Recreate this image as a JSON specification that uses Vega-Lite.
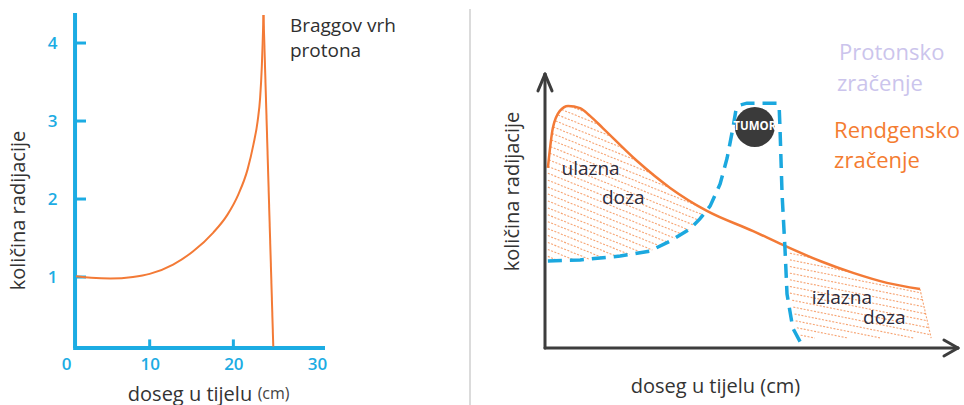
{
  "$schema": "https://vega.github.io/schema/vega-lite/v6.json",
  "padding": {"left": 8, "top": 8, "right": 0, "bottom": 0},
  "background": "white",
  "config": {"view": {"stroke": null}, "font": "Open Sans", "axis": {"grid": false}},
  "spacing": 220,
  "bounds": "flush",
  "datasets": {
    "leftAxes": [
      {"x": 1.08, "y": 0.09, "x2": 1.08, "y2": 4.385},
      {"x": 0.85, "y": 0.09, "x2": 30.95, "y2": 0.09}
    ],
    "leftTicks": [
      {"x": 1.08, "y": 1, "x2": 2.39, "y2": 1},
      {"x": 1.08, "y": 2, "x2": 2.39, "y2": 2},
      {"x": 1.08, "y": 3, "x2": 2.39, "y2": 3},
      {"x": 1.08, "y": 4, "x2": 2.39, "y2": 4},
      {"x": 10, "y": 0.09, "x2": 10, "y2": 0.2},
      {"x": 20, "y": 0.09, "x2": 20, "y2": 0.2}
    ],
    "bragg": [
      {"s": "rise", "i": 1, "x": 1.2, "y": 1.01}, {"s": "rise", "i": 2, "x": 3, "y": 0.99},
      {"s": "rise", "i": 3, "x": 5.3, "y": 0.98}, {"s": "rise", "i": 4, "x": 8, "y": 1.0},
      {"s": "rise", "i": 5, "x": 10, "y": 1.04}, {"s": "rise", "i": 6, "x": 12.8, "y": 1.16},
      {"s": "rise", "i": 7, "x": 15.2, "y": 1.33}, {"s": "rise", "i": 8, "x": 17.6, "y": 1.57},
      {"s": "rise", "i": 9, "x": 19.3, "y": 1.8}, {"s": "rise", "i": 10, "x": 20.6, "y": 2.06},
      {"s": "rise", "i": 11, "x": 21.7, "y": 2.38}, {"s": "rise", "i": 12, "x": 22.4, "y": 2.7},
      {"s": "rise", "i": 13, "x": 22.9, "y": 3.0}, {"s": "rise", "i": 14, "x": 23.2, "y": 3.3},
      {"s": "rise", "i": 15, "x": 23.4, "y": 3.7}, {"s": "rise", "i": 16, "x": 23.5, "y": 4.0},
      {"s": "rise", "i": 17, "x": 23.6, "y": 4.36},
      {"s": "fall", "i": 1, "x": 23.6, "y": 4.36}, {"s": "fall", "i": 2, "x": 24.77, "y": 0.11}
    ],
    "braggLabel": [
      {"x": 26.76, "y": 4.22, "text": "Braggov vrh"},
      {"x": 26.76, "y": 3.9, "text": "protona"}
    ],
    "cmLabel": [{"x": 22.9, "y": -0.5, "text": "(cm)"}],
    "separator": [{"x": -18.16, "y": 122.4, "x2": -18.16, "y2": -21}],
    "rightAxes": [
      {"x": 0, "y": 0, "x2": 0, "y2": 98.9},
      {"x": 0, "y": 0, "x2": 100, "y2": 0},
      {"x": -1.7, "y": 92.8, "x2": 0, "y2": 98.9},
      {"x": 1.7, "y": 92.8, "x2": 0, "y2": 98.9},
      {"x": 96.6, "y": 2.9, "x2": 100, "y2": 0},
      {"x": 96.6, "y": -2.9, "x2": 100, "y2": 0}
    ],
    "xray": [
      {"x": 0.7, "y": 65}, {"x": 1.9, "y": 79.4}, {"x": 3.6, "y": 85.6}, {"x": 5.6, "y": 87.4},
      {"x": 8.5, "y": 86.6}, {"x": 10.9, "y": 83.8}, {"x": 14, "y": 79.4}, {"x": 22.3, "y": 67.5},
      {"x": 30.3, "y": 57.8}, {"x": 39.2, "y": 49.5}, {"x": 50.4, "y": 42.2}, {"x": 57.6, "y": 37.2},
      {"x": 66.6, "y": 31.4}, {"x": 74.6, "y": 27.1}, {"x": 82.8, "y": 23.5}, {"x": 90.8, "y": 21.3}
    ],
    "proton": [
      {"i": 1, "x": 0.7, "y": 31.4}, {"i": 2, "x": 8.5, "y": 31.8}, {"i": 3, "x": 18.2, "y": 33.2},
      {"i": 4, "x": 25.4, "y": 35.0}, {"i": 5, "x": 30.3, "y": 38.6}, {"i": 6, "x": 35.1, "y": 43.0},
      {"i": 7, "x": 37.5, "y": 46.6}, {"i": 8, "x": 40.0, "y": 51.3}, {"i": 9, "x": 42.4, "y": 59.2},
      {"i": 10, "x": 44.1, "y": 68.6}, {"i": 11, "x": 45.5, "y": 79.4}, {"i": 12, "x": 46.2, "y": 85.6},
      {"i": 13, "x": 47.2, "y": 87.7}, {"i": 14, "x": 48.9, "y": 88.4}, {"i": 15, "x": 56.2, "y": 88.4},
      {"i": 16, "x": 56.7, "y": 87.0}, {"i": 17, "x": 56.9, "y": 79.4}, {"i": 18, "x": 57.4, "y": 55.6},
      {"i": 19, "x": 58.1, "y": 36.1}, {"i": 20, "x": 58.6, "y": 19.5}, {"i": 21, "x": 60.0, "y": 7.2},
      {"i": 22, "x": 62.2, "y": 1.1}
    ],
    "hatch": [
      {"x": 0.7, "y": 33.08, "x2": 3.3, "y2": 31.52},
      {"x": 0.7, "y": 35.58, "x2": 7.12, "y2": 31.73},
      {"x": 0.7, "y": 38.08, "x2": 10.66, "y2": 32.1},
      {"x": 0.7, "y": 40.58, "x2": 14.03, "y2": 32.58},
      {"x": 0.7, "y": 43.08, "x2": 17.39, "y2": 33.07},
      {"x": 0.7, "y": 45.58, "x2": 20.44, "y2": 33.74},
      {"x": 0.7, "y": 48.08, "x2": 23.39, "y2": 34.47},
      {"x": 0.7, "y": 50.58, "x2": 25.99, "y2": 35.4},
      {"x": 0.7, "y": 53.08, "x2": 27.85, "y2": 36.79},
      {"x": 0.7, "y": 55.58, "x2": 29.71, "y2": 38.17},
      {"x": 0.7, "y": 58.08, "x2": 31.42, "y2": 39.65},
      {"x": 0.7, "y": 60.58, "x2": 33.06, "y2": 41.16},
      {"x": 0.7, "y": 63.08, "x2": 34.7, "y2": 42.68},
      {"x": 0.75, "y": 65.55, "x2": 36.01, "y2": 44.39},
      {"x": 0.95, "y": 67.93, "x2": 37.21, "y2": 46.17},
      {"x": 1.15, "y": 70.31, "x2": 38.27, "y2": 48.04},
      {"x": 1.34, "y": 72.69, "x2": 37.72, "y2": 50.87},
      {"x": 1.54, "y": 75.08, "x2": 30.3, "y2": 57.8},
      {"x": 1.74, "y": 77.46, "x2": 26.22, "y2": 62.77},
      {"x": 2.02, "y": 79.79, "x2": 22.18, "y2": 67.69},
      {"x": 2.6, "y": 81.94, "x2": 19.17, "y2": 72.0},
      {"x": 3.18, "y": 84.09, "x2": 16.17, "y2": 76.3},
      {"x": 4.07, "y": 86.06, "x2": 13.13, "y2": 80.62},
      {"x": 6.25, "y": 87.25, "x2": 9.7, "y2": 85.18},
      {"x": 59.3, "y": 34.21, "x2": 64.8, "y2": 32.56},
      {"x": 59.3, "y": 31.81, "x2": 74.1, "y2": 27.37},
      {"x": 59.3, "y": 29.41, "x2": 91.0, "y2": 19.9},
      {"x": 59.3, "y": 27.01, "x2": 91.4, "y2": 17.38},
      {"x": 59.3, "y": 24.61, "x2": 91.78, "y2": 14.87},
      {"x": 59.3, "y": 22.21, "x2": 92.16, "y2": 12.35},
      {"x": 59.3, "y": 19.81, "x2": 92.55, "y2": 9.84},
      {"x": 59.85, "y": 17.24, "x2": 92.93, "y2": 7.32},
      {"x": 60.13, "y": 14.76, "x2": 93.31, "y2": 4.81},
      {"x": 60.42, "y": 12.27, "x2": 89.33, "y2": 3.6},
      {"x": 60.7, "y": 9.79, "x2": 81.33, "y2": 3.6},
      {"x": 60.99, "y": 7.3, "x2": 73.33, "y2": 3.6},
      {"x": 61.9, "y": 4.63, "x2": 65.33, "y2": 3.6},
      {"x": 90.8, "y": 21.3, "x2": 93.5, "y2": 3.6}
    ],
    "tumor": [{"x": 50.8, "y": 79.8, "text": "TUMOR"}],
    "doseLabels": [
      {"x": 4.0, "y": 64.6, "text": "ulazna"},
      {"x": 13.8, "y": 54.2, "text": "doza"},
      {"x": 64.6, "y": 18.1, "text": "izlazna"},
      {"x": 77.0, "y": 10.8, "text": "doza"}
    ],
    "protonLegend": [
      {"x": 71.2, "y": 106.5, "text": "Protonsko"},
      {"x": 70.7, "y": 95.3, "text": "zračenje"}
    ],
    "xrayLegend": [
      {"x": 70.0, "y": 78.3, "text": "Rendgensko"},
      {"x": 70.0, "y": 67.6, "text": "zračenje"}
    ]
  },
  "hconcat": [
    {
      "width": 259,
      "height": 335,
      "layer": [
        {
          "data": {"name": "leftAxes"},
          "mark": {"type": "rule", "color": "#1cace3", "strokeWidth": 4},
          "encoding": {
            "x": {"field": "x", "type": "quantitative",
              "scale": {"domain": [0, 30.95], "nice": false, "zero": false},
              "axis": {"values": [0, 10, 20, 30], "format": "d", "ticks": false, "domain": false, "labelFlush": false,
                "labelColor": "#1cace3", "labelFontSize": 17, "labelFontWeight": 600, "labelPadding": 8,
                "title": "doseg u tijelu", "titleFontSize": 20, "titleFontWeight": "normal", "titleColor": "#333333",
                "titleX": 123.5, "titleY": 46, "titleBaseline": "middle", "titleAlign": "center"}},
            "y": {"field": "y", "type": "quantitative",
              "scale": {"domain": [0.09, 4.385], "nice": false, "zero": false},
              "axis": {"values": [1, 2, 3, 4], "format": "d", "ticks": false, "domain": false,
                "labelColor": "#1cace3", "labelFontSize": 17, "labelFontWeight": 600, "labelPadding": 9,
                "title": "količina radijacije", "titleFontSize": 20, "titleFontWeight": "normal", "titleColor": "#333333",
                "titleX": -48, "titleY": 197, "titleAngle": 270, "titleBaseline": "middle", "titleAlign": "center"}},
            "x2": {"field": "x2"},
            "y2": {"field": "y2"}
          }
        },
        {
          "data": {"name": "leftTicks"},
          "mark": {"type": "rule", "color": "#1cace3", "strokeWidth": 3},
          "encoding": {
            "x": {"field": "x", "type": "quantitative"},
            "y": {"field": "y", "type": "quantitative"},
            "x2": {"field": "x2"},
            "y2": {"field": "y2"}
          }
        },
        {
          "data": {"name": "bragg"},
          "mark": {"type": "line", "color": "#f37a36", "strokeWidth": 2, "interpolate": "monotone"},
          "encoding": {
            "x": {"field": "x", "type": "quantitative"},
            "y": {"field": "y", "type": "quantitative"},
            "detail": {"field": "s"},
            "order": {"field": "i", "type": "quantitative"}
          }
        },
        {
          "data": {"name": "braggLabel"},
          "mark": {"type": "text", "align": "left", "baseline": "middle", "fontSize": 19, "color": "#2f2f2f"},
          "encoding": {
            "x": {"field": "x", "type": "quantitative"},
            "y": {"field": "y", "type": "quantitative"},
            "text": {"field": "text"}
          }
        },
        {
          "data": {"name": "cmLabel"},
          "mark": {"type": "text", "align": "left", "baseline": "middle", "fontSize": 16, "color": "#444444"},
          "encoding": {
            "x": {"field": "x", "type": "quantitative"},
            "y": {"field": "y", "type": "quantitative"},
            "text": {"field": "text"}
          }
        }
      ]
    },
    {
      "width": 413,
      "height": 335,
      "layer": [
        {
          "data": {"name": "separator"},
          "mark": {"type": "rule", "color": "#cfcfcf", "strokeWidth": 1.5},
          "encoding": {
            "x": {"field": "x", "type": "quantitative",
              "scale": {"domain": [0, 100], "nice": false, "zero": false},
              "axis": {"labels": false, "ticks": false, "domain": false,
                "title": "doseg u tijelu (cm)", "titleFontSize": 20, "titleFontWeight": "normal", "titleColor": "#333333",
                "titleX": 170, "titleY": 38, "titleBaseline": "middle", "titleAlign": "center"}},
            "y": {"field": "y", "type": "quantitative",
              "scale": {"domain": [0, 120.94], "nice": false, "zero": false},
              "axis": {"labels": false, "ticks": false, "domain": false,
                "title": "količina radijacije", "titleFontSize": 20, "titleFontWeight": "normal", "titleColor": "#333333",
                "titleX": -33, "titleY": 178, "titleAngle": 270, "titleBaseline": "middle", "titleAlign": "center"}},
            "x2": {"field": "x2"},
            "y2": {"field": "y2"}
          }
        },
        {
          "data": {"name": "hatch"},
          "mark": {"type": "rule", "color": "#f5945a", "strokeWidth": 1.1, "strokeDash": [2, 1.5], "opacity": 0.85},
          "encoding": {
            "x": {"field": "x", "type": "quantitative"},
            "y": {"field": "y", "type": "quantitative"},
            "x2": {"field": "x2"},
            "y2": {"field": "y2"}
          }
        },
        {
          "data": {"name": "xray"},
          "mark": {"type": "line", "color": "#f37a36", "strokeWidth": 2.5, "interpolate": "monotone"},
          "encoding": {
            "x": {"field": "x", "type": "quantitative"},
            "y": {"field": "y", "type": "quantitative"}
          }
        },
        {
          "data": {"name": "proton"},
          "mark": {"type": "line", "color": "#1ba8df", "strokeWidth": 3.5, "strokeDash": [14, 8]},
          "encoding": {
            "x": {"field": "x", "type": "quantitative"},
            "y": {"field": "y", "type": "quantitative"},
            "order": {"field": "i", "type": "quantitative"}
          }
        },
        {
          "data": {"name": "rightAxes"},
          "mark": {"type": "rule", "color": "#3d3d3d", "strokeWidth": 3, "strokeCap": "round"},
          "encoding": {
            "x": {"field": "x", "type": "quantitative"},
            "y": {"field": "y", "type": "quantitative"},
            "x2": {"field": "x2"},
            "y2": {"field": "y2"}
          }
        },
        {
          "data": {"name": "tumor"},
          "mark": {"type": "point", "filled": true, "shape": "circle", "size": 1590, "color": "#3a3a3a", "opacity": 1},
          "encoding": {
            "x": {"field": "x", "type": "quantitative"},
            "y": {"field": "y", "type": "quantitative"}
          }
        },
        {
          "data": {"name": "tumor"},
          "mark": {"type": "text", "fontSize": 11.5, "fontWeight": "bold", "color": "white", "align": "center", "baseline": "middle"},
          "encoding": {
            "x": {"field": "x", "type": "quantitative"},
            "y": {"field": "y", "type": "quantitative"},
            "text": {"field": "text"}
          }
        },
        {
          "data": {"name": "doseLabels"},
          "mark": {"type": "text", "fontSize": 19, "color": "#2b2b3c", "align": "left", "baseline": "middle"},
          "encoding": {
            "x": {"field": "x", "type": "quantitative"},
            "y": {"field": "y", "type": "quantitative"},
            "text": {"field": "text"}
          }
        },
        {
          "data": {"name": "protonLegend"},
          "mark": {"type": "text", "fontSize": 22, "color": "#cbc4ec", "align": "left", "baseline": "middle"},
          "encoding": {
            "x": {"field": "x", "type": "quantitative"},
            "y": {"field": "y", "type": "quantitative"},
            "text": {"field": "text"}
          }
        },
        {
          "data": {"name": "xrayLegend"},
          "mark": {"type": "text", "fontSize": 22, "color": "#f47c30", "align": "left", "baseline": "middle"},
          "encoding": {
            "x": {"field": "x", "type": "quantitative"},
            "y": {"field": "y", "type": "quantitative"},
            "text": {"field": "text"}
          }
        }
      ]
    }
  ]
}
